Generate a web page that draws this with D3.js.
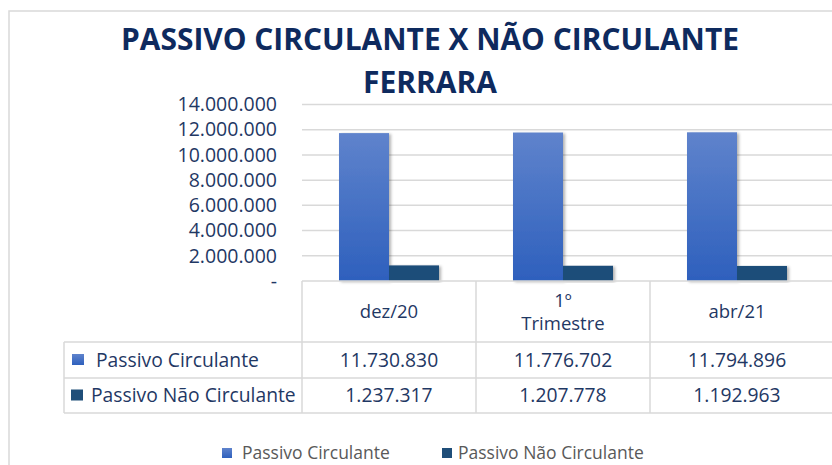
<!DOCTYPE html>
<html lang="pt-BR">
<head>
<meta charset="UTF-8">
<script src="https://d3js.org/d3.v7.min.js"></script>
<style>
  body { margin: 0; background: #fff; }
  svg { display: block; }
  text { font-family: 'Open Sans', 'Noto Sans', sans-serif; }
</style>
</head>
<body>
<svg id="chart" width="832" height="465"></svg>
<script>
// --- data ---
const categories = ["dez/20", "1º Trimestre", "abr/21"];
const categoryLines = [["dez/20"], ["1º", "Trimestre"], ["abr/21"]];
const seriesNames = ["Passivo Circulante", "Passivo Não Circulante"];
const passivoCirculante = [11730830, 11776702, 11794896];
const passivoNaoCirculante = [1237317, 1207778, 1192963];
const yTicks = [0, 2000000, 4000000, 6000000, 8000000, 10000000, 12000000, 14000000];
const titleLines = ["PASSIVO CIRCULANTE X NÃO CIRCULANTE", "FERRARA"];

const seriesValues = [passivoCirculante, passivoNaoCirculante];

const W = 832, H = 465;
const plot = { left: 302, right: 824, top: 104.5, bottom: 281 };
const rowBottoms = [342, 378, 413];  // category row, series 1 row, series 2 row
const tableLeft = 64;

const colors = { navy: "#0e2a5e", text: "#1f3864", grid: "#d9d9d9", dark: "#1f4e79" };

const br = d3.formatLocale({ decimal: ",", thousands: ".", grouping: [3], currency: ["R$", ""] });
const fmt = br.format(",.0f");
const tickFmt = v => v === 0 ? "-" : fmt(v);

const svg = d3.select("#chart");
const defs = svg.append("defs");

const grad = defs.append("linearGradient").attr("id", "gBlue")
  .attr("x1", 0).attr("y1", 0).attr("x2", 0).attr("y2", 1);
grad.append("stop").attr("offset", "0%").attr("stop-color", "#5f83cc");
grad.append("stop").attr("offset", "100%").attr("stop-color", "#2e60bd");

const shadow = defs.append("filter").attr("id", "shadow")
  .attr("x", "-20%").attr("y", "-5%").attr("width", "150%").attr("height", "115%");
shadow.append("feDropShadow").attr("dx", 2).attr("dy", 1).attr("stdDeviation", 1.6)
  .attr("flood-color", "#000").attr("flood-opacity", 0.3);

const fills = ["url(#gBlue)", colors.dark];

// outer chart border
svg.append("rect").attr("x", 9).attr("y", 11).attr("width", W + 20).attr("height", H + 20)
  .attr("fill", "none").attr("stroke", "#d9d9d9").attr("stroke-width", 1.5);

// title
svg.selectAll("text.title").data(titleLines).join("text")
  .attr("class", "title")
  .attr("x", 430)
  .attr("y", (d, i) => [50, 93][i])
  .attr("text-anchor", "middle")
  .attr("fill", colors.navy)
  .style("font-family", "'Liberation Sans Narrow', 'Open Sans', sans-serif")
  .style("font-weight", 700)
  .style("font-size", "31px")
  .attr("textLength", (d, i) => [618, 134][i])
  .attr("lengthAdjust", "spacingAndGlyphs")
  .text(d => d);

// scales
const y = d3.scaleLinear().domain([0, 14000000]).range([plot.bottom, plot.top]);
const x0 = d3.scaleBand().domain(categories).range([plot.left, plot.right]);
const x1 = d3.scaleBand().domain(seriesNames).range([0, x0.bandwidth()]).paddingOuter(0.74);

// gridlines
svg.append("g").selectAll("line").data(yTicks.filter(d => d > 0)).join("line")
  .attr("x1", plot.left).attr("x2", W)
  .attr("y1", d => y(d)).attr("y2", d => y(d))
  .attr("stroke", colors.grid).attr("stroke-width", 1.5);

// y axis labels
const yAxis = svg.append("g").attr("transform", `translate(${plot.left - 25},0)`)
  .call(d3.axisLeft(y).tickValues(yTicks).tickFormat(tickFmt).tickSize(0).tickPadding(0));
yAxis.select(".domain").remove();
yAxis.selectAll("text")
  .attr("fill", colors.text)
  .style("font-size", "19.5px")
  .style("font-family", "'Open Sans', sans-serif");

// bars
const groups = svg.append("g").selectAll("g").data(categories).join("g")
  .attr("transform", d => `translate(${x0(d)},0)`);
groups.selectAll("rect")
  .data((c, ci) => seriesNames.map((s, si) => ({ s, si, v: seriesValues[si][ci] })))
  .join("rect")
  .attr("x", d => x1(d.s))
  .attr("width", x1.bandwidth())
  .attr("y", d => y(d.v))
  .attr("height", d => y(0) - y(d.v))
  .attr("fill", d => fills[d.si])
  .attr("filter", "url(#shadow)");

// data table
const tbl = svg.append("g").attr("stroke", colors.grid).attr("stroke-width", 1.5);
tbl.append("line").attr("x1", plot.left).attr("x2", W).attr("y1", plot.bottom).attr("y2", plot.bottom);
rowBottoms.forEach(yy => {
  tbl.append("line").attr("x1", tableLeft).attr("x2", W).attr("y1", yy).attr("y2", yy);
});
categories.forEach(c => {
  tbl.append("line").attr("x1", x0(c)).attr("x2", x0(c))
    .attr("y1", plot.bottom).attr("y2", rowBottoms[2]);
});
tbl.append("line").attr("x1", tableLeft).attr("x2", tableLeft)
  .attr("y1", rowBottoms[0]).attr("y2", rowBottoms[2]);

// category labels
const catMid = (plot.bottom + rowBottoms[0]) / 2;
categories.forEach((c, i) => {
  const lines = categoryLines[i];
  const t = svg.append("text")
    .attr("text-anchor", "middle")
    .attr("fill", colors.text)
    .style("font-size", "18.5px");
  lines.forEach((ln, li) => {
    t.append("tspan")
      .attr("x", x0(c) + x0.bandwidth() / 2)
      .attr("y", catMid + (li - (lines.length - 1) / 2) * 23)
      .attr("dy", "0.36em")
      .text(ln);
  });
});

// table values
const rowMid = si => (rowBottoms[si] + rowBottoms[si + 1]) / 2;
seriesNames.forEach((s, si) => {
  svg.append("g").selectAll("text").data(categories).join("text")
    .attr("x", c => x0(c) + x0.bandwidth() / 2)
    .attr("y", rowMid(si))
    .attr("dy", "0.36em")
    .attr("text-anchor", "middle")
    .attr("fill", colors.text)
    .style("font-size", "19.3px")
    .text((c, ci) => fmt(seriesValues[si][ci]));
});

// legend keys inside the table
const keyX = [72, 71], textX = [96, 91];
seriesNames.forEach((s, si) => {
  const cy = rowMid(si);
  svg.append("rect").attr("x", keyX[si]).attr("y", cy - 6).attr("width", 12).attr("height", 11)
    .attr("fill", fills[si]);
  svg.append("text").attr("x", textX[si]).attr("y", cy).attr("dy", "0.36em")
    .attr("fill", colors.text).style("font-size", "19.3px").text(s);
});

// bottom legend
const legX = [222, 442];
const legend = svg.append("g").selectAll("g").data(seriesNames).join("g")
  .attr("transform", (d, i) => `translate(${legX[i]},453)`);
legend.append("rect").attr("x", 0).attr("y", -5).attr("width", 10).attr("height", 10)
  .attr("fill", (d, i) => fills[i]);
legend.append("text").attr("x", (d, i) => i === 0 ? 20 : 16).attr("y", 0).attr("dy", "0.36em")
  .attr("fill", "#595959").style("font-size", "17.5px").text(d => d);
</script>
</body>
</html>
